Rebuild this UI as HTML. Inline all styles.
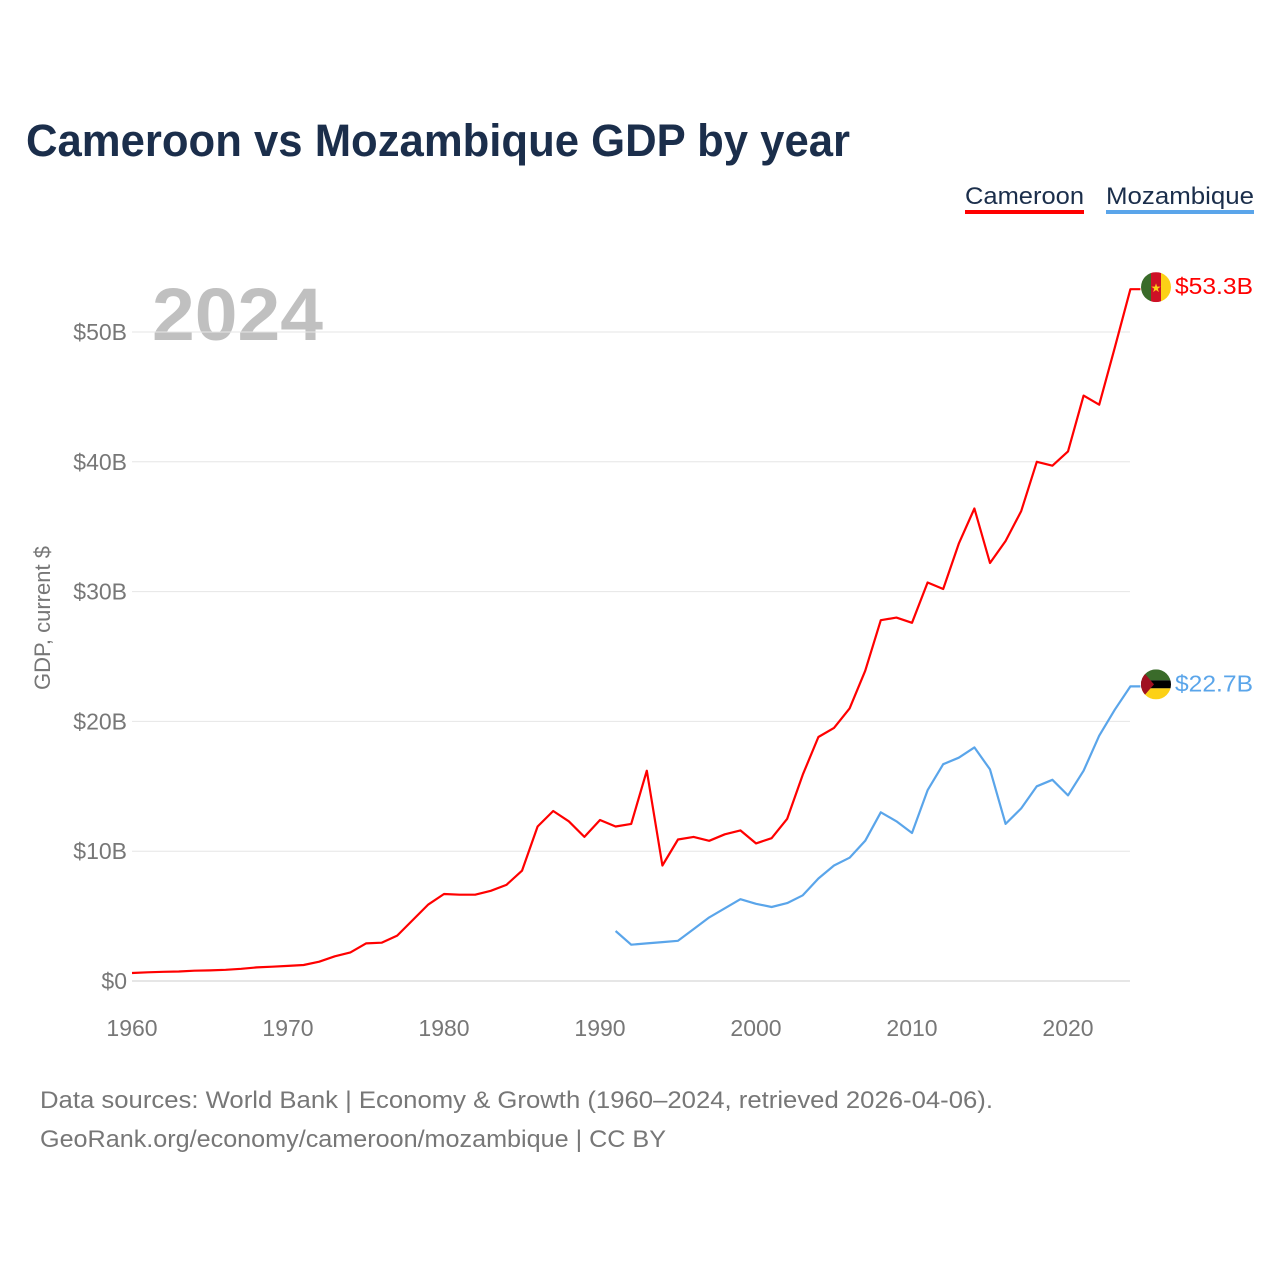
<!DOCTYPE html>
<html><head><meta charset="utf-8"><style>
body{margin:0;background:#fff;font-family:"Liberation Sans",sans-serif}
#c{position:relative;width:1280px;height:1280px}
</style></head><body>
<div id="c">
<svg id="s" width="1280" height="1280" xmlns="http://www.w3.org/2000/svg">
<text x="26" y="156" font-size="45" font-weight="bold" fill="#1b2e4b" textLength="824" lengthAdjust="spacingAndGlyphs">Cameroon vs Mozambique GDP by year</text>
<g><text x="965" y="204" font-size="24" fill="#1b2e4b" textLength="119" lengthAdjust="spacingAndGlyphs">Cameroon</text><rect x="965" y="210" width="119" height="4" fill="#ff0000"/></g>
<g><text x="1106" y="204" font-size="24" fill="#1b2e4b" textLength="148" lengthAdjust="spacingAndGlyphs">Mozambique</text><rect x="1106" y="210" width="148" height="4" fill="#5aa5ea"/></g>
<text x="152" y="340" font-size="74" font-weight="bold" fill="#c0c0c0" textLength="171" lengthAdjust="spacingAndGlyphs">2024</text>
<text transform="translate(50,618) rotate(-90)" text-anchor="middle" font-size="22" fill="#777">GDP, current $</text>
<g id="grid"></g><g id="lines"></g>
<text x="40" y="1108" font-size="24" fill="#777" textLength="953" lengthAdjust="spacingAndGlyphs">Data sources: World Bank | Economy &amp; Growth (1960–2024, retrieved 2026-04-06).</text>
<text x="40" y="1147" font-size="24" fill="#777" textLength="626" lengthAdjust="spacingAndGlyphs">GeoRank.org/economy/cameroon/mozambique | CC BY</text>
</svg></div>
<script>
const years=[];for(let y=1960;y<=2024;y++)years.push(y);
const cameroon=[0.62,0.67,0.71,0.73,0.79,0.82,0.86,0.94,1.05,1.10,1.16,1.23,1.49,1.90,2.2,2.9,2.95,3.5,4.7,5.9,6.7,6.65,6.65,6.95,7.4,8.5,11.9,13.1,12.3,11.1,12.4,11.9,12.1,16.2,8.9,10.9,11.1,10.8,11.3,11.6,10.6,11.0,12.5,15.9,18.8,19.5,21.0,23.9,27.8,28.0,27.6,30.7,30.2,33.7,36.4,32.2,33.9,36.2,40.0,39.7,40.8,45.1,44.4,48.8,53.3];
const mozYears=[];for(let y=1991;y<=2024;y++)mozYears.push(y);
const mozambique=[3.85,2.8,2.9,3.0,3.1,4.0,4.9,5.6,6.3,5.95,5.7,6.0,6.6,7.9,8.9,9.5,10.8,13.0,12.3,11.4,14.7,16.7,17.2,18.0,16.3,12.1,13.3,15.0,15.5,14.3,16.2,18.9,20.9,22.7];
const yTicks=[0,10,20,30,40,50];
const xTicks=[1960,1970,1980,1990,2000,2010,2020];
const NS='http://www.w3.org/2000/svg';
const X=y=>132+(y-1960)*15.6, Y=v=>981-v*12.98;
function mk(t,a,p){const e=document.createElementNS(NS,t);for(const k in a)e.setAttribute(k,a[k]);p.appendChild(e);return e;}
const g=document.getElementById('grid'),L=document.getElementById('lines');
yTicks.forEach(v=>{
 const l=mk('line',{x1:132,x2:1130,y1:Y(v),y2:Y(v),stroke:v==0?'#ccc':'#e6e6e6','stroke-width':1},g);
 
 
 const t=mk('text',{x:127,y:Y(v)+8,'text-anchor':'end','font-size':23,fill:'#777'},g);t.textContent='$'+v+(v?'B':'');
 
 
});
xTicks.forEach(v=>{
 const t=mk('text',{x:X(v),y:1036,'text-anchor':'middle','font-size':23,fill:'#777'},g);t.textContent=v;
 
 
});
function line(xs,vs,col,name){
 const d=xs.map((y,i)=>(i?'L':'M')+X(y).toFixed(1)+' '+Y(vs[i]).toFixed(1)).join(' ')+' H'+(X(2024)+10);
 const p=mk('path',{d:d,fill:'none',stroke:col,'stroke-width':2.2,'stroke-linejoin':'round'},L);
 
 
 const v=vs[vs.length-1],yy=Y(v);
 const t=mk('text',{x:1175,y:yy+5,'font-size':23,fill:col,textLength:78,lengthAdjust:'spacingAndGlyphs'},L);t.textContent='$'+v.toFixed(1)+'B';
 
 
 return yy;
}
const cy=line(years,cameroon,'#ff0000','cameroon')-2;
const my=line(mozYears,mozambique,'#5aa5ea','mozambique')-2;
const f1=mk('g',{},L);
const cp1=mk('clipPath',{id:'c1'},f1);mk('circle',{cx:1156,cy:cy,r:15},cp1);
mk('rect',{x:1141,y:cy-15,width:10,height:30,fill:'#3a6b2a','clip-path':'url(#c1)'},f1);
mk('rect',{x:1151,y:cy-15,width:10,height:30,fill:'#ce1126','clip-path':'url(#c1)'},f1);
mk('rect',{x:1161,y:cy-15,width:10,height:30,fill:'#fcd116','clip-path':'url(#c1)'},f1);
mk('text',{x:1156,y:cy+5,'text-anchor':'middle','font-size':12,fill:'#fcd116'},f1).textContent='★';
const f2=mk('g',{},L);
const cp=mk('clipPath',{id:'c2'},f2);mk('circle',{cx:1156,cy:my,r:15},cp);
mk('rect',{x:1141,y:my-15,width:30,height:11,fill:'#3a6b2a','clip-path':'url(#c2)'},f2);
mk('rect',{x:1141,y:my-4,width:30,height:8,fill:'#000','clip-path':'url(#c2)'},f2);
mk('rect',{x:1141,y:my+4,width:30,height:11,fill:'#fcd116','clip-path':'url(#c2)'},f2);
mk('polygon',{points:`1141,${my-15} 1154,${my} 1141,${my+15}`,fill:'#a01020','clip-path':'url(#c2)'},f2);
</script>
</body></html>
